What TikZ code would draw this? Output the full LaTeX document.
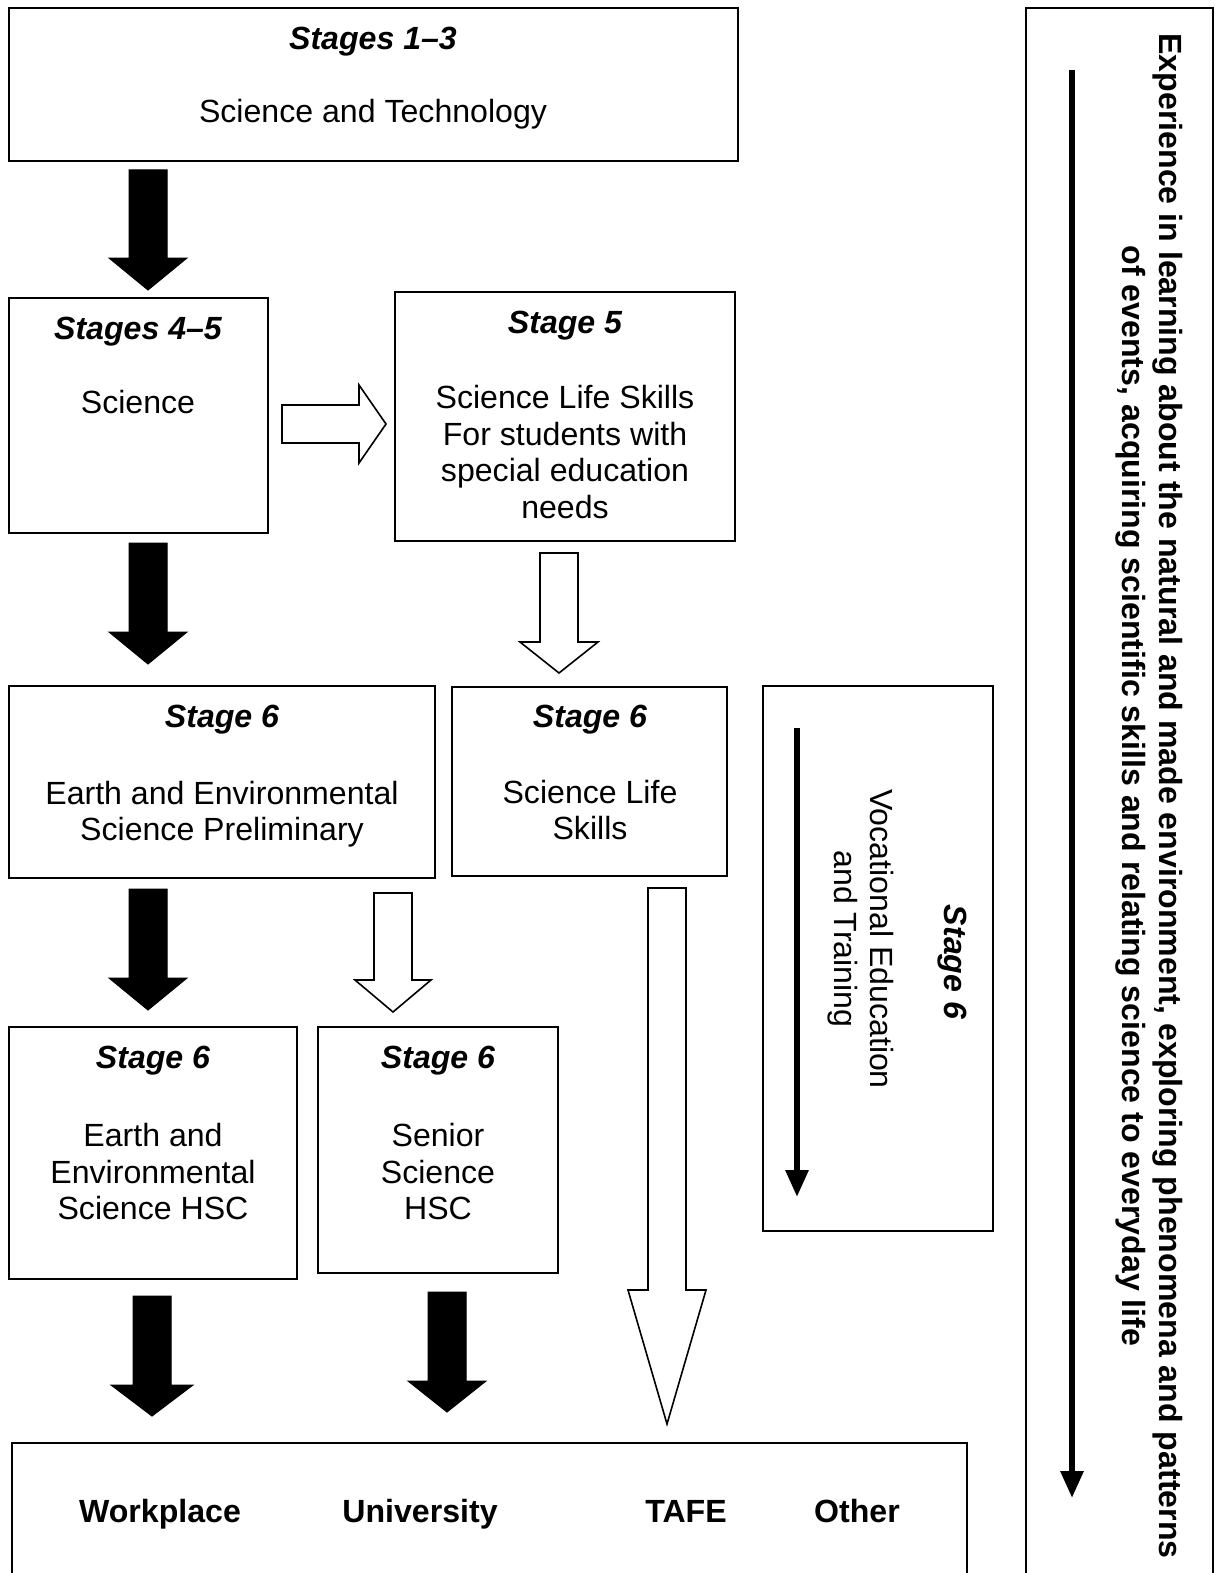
\documentclass[tikz,border=0pt]{standalone}
\usepackage{fontspec}
\setmainfont{Liberation Sans}
\usetikzlibrary{arrows.meta}
\tikzset{
  box/.style={draw=black,line width=2pt},
  txt/.style={inner sep=0pt,font=\fontsize{32.1}{36.5}\selectfont,align=center},
  ttl/.style={txt,font=\fontsize{32.1}{36.5}\selectfont\bfseries\itshape},
  dest/.style={txt,font=\fontsize{32.1}{36.5}\selectfont\bfseries},
  blackarr/.style={fill=black,draw=black,line width=1pt,line join=miter},
  whitearr/.style={fill=white,draw=black,line width=1.6pt,line join=miter},
  thinarr/.style={line width=6pt,-{Triangle[length=27pt,width=22pt]}}
}
\newcommand\blkdown[6]{% style, x, top, base, tip, headhalf
  \filldraw[#1] ({#2-19},#3) -- ({#2+19},#3) -- ({#2+19},#4) -- ({#2+#6},#4) -- (#2,#5) -- ({#2-#6},#4) -- ({#2-19},#4) -- cycle;}
\begin{document}
\begin{tikzpicture}[x=1pt,y=-1pt]
\useasboundingbox[fill=white] (0,0) rectangle (1215,1573);
% boxes
\draw[box] (9,8) rectangle (738,161);
\node[ttl,anchor=base] (t13) at (373,49.5) {Stages 1–3};
\node[txt,anchor=base] (st) at (373,122.5) {Science and Technology};

\draw[box] (9,298) rectangle (268,533);
\node[ttl,anchor=base] (t45) at (138,339.5) {Stages 4–5};
\node[txt,anchor=base] (sci) at (138,413.5) {Science};

\draw[box] (395,292) rectangle (735,541);
\node[ttl,anchor=base] (t5) at (565,333.5) {Stage 5};
\node[txt] (sls5) at (565,452) {Science Life Skills\\For students with\\special education\\needs};

\draw[box] (9,686) rectangle (435,878);
\node[ttl,anchor=base] (t6a) at (222,727.5) {Stage 6};
\node[txt] (eesp) at (222,814) {Earth and Environmental\\Science Preliminary};

\draw[box] (452,687) rectangle (727,876);
\node[ttl,anchor=base] (t6b) at (590,727.5) {Stage 6};
\node[txt] (sls6) at (590,810) {Science Life\\Skills};

\draw[box] (9,1027) rectangle (297,1279);
\node[ttl,anchor=base] (t6c) at (153,1068.5) {Stage 6};
\node[txt] (eesh) at (153,1172) {Earth and\\Environmental\\Science HSC};

\draw[box] (318,1027) rectangle (558,1273);
\node[ttl,anchor=base] (t6d) at (438,1068.5) {Stage 6};
\node[txt] (ssh) at (438,1172) {Senior\\Science\\HSC};

\draw[box] (12,1443) rectangle (967,1590);
\node[dest,anchor=base] (wp) at (160,1522) {Workplace};
\node[dest,anchor=base] (uni) at (420,1522) {University};
\node[dest,anchor=base] (tafe) at (686,1522) {TAFE};
\node[dest,anchor=base] (oth) at (857,1522) {Other};

% VET box
\draw[box] (763,686) rectangle (993,1231);
\coordinate (vets) at (797,728);
\coordinate (vete) at (797,1197);
\draw[thinarr] (vets) -- (vete);
\node[ttl,rotate=-90] (t6v) at (952,962) {Stage 6};
\node[txt,rotate=-90] (vet) at (861,939) {Vocational Education\\and Training};

% right box
\draw[box] (1026,8) rectangle (1213,1590);
\coordinate (exs) at (1072,70);
\coordinate (exe) at (1072,1498);
\draw[thinarr] (exs) -- (exe);
\node[dest,rotate=-90] (exp) at (1149,796) {Experience in learning about the natural and made environment, exploring phenomena and patterns\\of events, acquiring scientific skills and relating science to everyday life};

% block arrows
\blkdown{blackarr}{148}{170}{258}{290}{39}
\blkdown{blackarr}{148}{543}{632}{664}{39}
\blkdown{blackarr}{148}{889}{978}{1010}{39}
\blkdown{blackarr}{152}{1296}{1385}{1416}{41}
\blkdown{blackarr}{447}{1292}{1381}{1412}{39}
\blkdown{whitearr}{559}{553}{642}{673}{39}
\blkdown{whitearr}{393}{893}{980}{1012}{38}
\blkdown{whitearr}{667}{888}{1290}{1424}{39}
\filldraw[whitearr] (282,405) -- (359,405) -- (359,385) -- (386,424) -- (359,463) -- (359,443) -- (282,443) -- cycle;
\end{tikzpicture}
\end{document}
